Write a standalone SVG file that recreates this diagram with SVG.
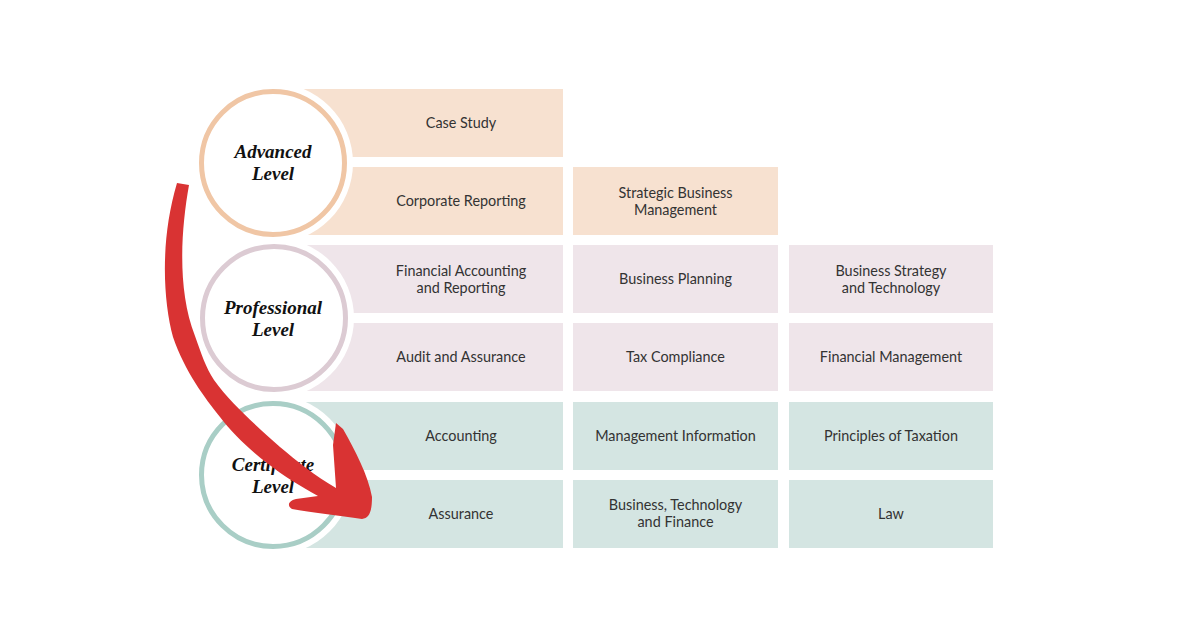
<svg xmlns="http://www.w3.org/2000/svg" width="1200" height="628" viewBox="0 0 1200 628">
<style>
.adv{fill:#f7e1d0}
.pro{fill:#efe5ea}
.cer{fill:#d4e5e2}
.t{font-family:Lato,"Noto Sans",sans-serif;font-size:14.4px;fill:#333;text-anchor:middle}
.h{font-family:"Liberation Serif",serif;font-weight:bold;font-style:italic;font-size:19px;fill:#111;text-anchor:middle}
.halo{fill:#fff}
</style>
<rect width="1200" height="628" fill="#fff"/>
<g id="row-advanced">
<g id="case-study"><rect class="adv" x="300" y="89" width="263" height="68"/><text class="t" x="461" y="128">Case Study</text></g>
<g id="corporate-reporting"><rect class="adv" x="300" y="167" width="263" height="68"/><text class="t" x="461" y="206">Corporate Reporting</text></g>
<g id="strategic-business-management"><rect class="adv" x="573" y="167" width="205" height="68"/><text class="t" x="675.5" y="198">Strategic Business</text><text class="t" x="675.5" y="215">Management</text></g>
</g>
<g id="row-professional">
<g id="financial-accounting"><rect class="pro" x="300" y="245" width="263" height="68"/><text class="t" x="461" y="276">Financial Accounting</text><text class="t" x="461" y="293">and Reporting</text></g>
<g id="business-planning"><rect class="pro" x="573" y="245" width="205" height="68"/><text class="t" x="675.5" y="284">Business Planning</text></g>
<g id="business-strategy"><rect class="pro" x="789" y="245" width="204" height="68"/><text class="t" x="891" y="276">Business Strategy</text><text class="t" x="891" y="293">and Technology</text></g>
<g id="audit-assurance"><rect class="pro" x="300" y="323" width="263" height="68"/><text class="t" x="461" y="362">Audit and Assurance</text></g>
<g id="tax-compliance"><rect class="pro" x="573" y="323" width="205" height="68"/><text class="t" x="675.5" y="362">Tax Compliance</text></g>
<g id="financial-management"><rect class="pro" x="789" y="323" width="204" height="68"/><text class="t" x="891" y="362">Financial Management</text></g>
</g>
<g id="row-certificate">
<g id="accounting"><rect class="cer" x="300" y="402" width="263" height="68"/><text class="t" x="461" y="441">Accounting</text></g>
<g id="management-information"><rect class="cer" x="573" y="402" width="205" height="68"/><text class="t" x="675.5" y="441">Management Information</text></g>
<g id="principles-taxation"><rect class="cer" x="789" y="402" width="204" height="68"/><text class="t" x="891" y="441">Principles of Taxation</text></g>
<g id="assurance"><rect class="cer" x="300" y="480" width="263" height="68"/><text class="t" x="461" y="519">Assurance</text></g>
<g id="business-technology-finance"><rect class="cer" x="573" y="480" width="205" height="68"/><text class="t" x="675.5" y="510">Business, Technology</text><text class="t" x="675.5" y="527">and Finance</text></g>
<g id="law"><rect class="cer" x="789" y="480" width="204" height="68"/><text class="t" x="891" y="519">Law</text></g>
</g>
<g id="advanced-level">
<circle class="halo" cx="273" cy="163" r="80"/>
<circle cx="273" cy="163" r="71.5" fill="#fff" stroke="#f0c6a5" stroke-width="5"/>
<text class="h" x="273" y="158">Advanced</text><text class="h" x="273" y="180">Level</text>
</g>
<g id="professional-level">
<circle class="halo" cx="274" cy="318" r="80"/>
<circle cx="274" cy="318" r="71.5" fill="#fff" stroke="#dccbd3" stroke-width="5"/>
<text class="h" x="273" y="314">Professional</text><text class="h" x="273" y="336">Level</text>
</g>
<g id="certificate-level">
<circle class="halo" cx="273" cy="475" r="80"/>
<circle cx="273" cy="475" r="71.5" fill="#fff" stroke="#a9cec6" stroke-width="5"/>
<text class="h" x="273" y="471">Certificate</text><text class="h" x="273" y="493">Level</text>
</g>
<g id="connectors">
<path d="M177,183 L189,185 C181,230 177,290 195,336 C201,353 206,368 214,380 C232,405 259,428 280,447 C297,461 315,476 336,488 L333,445 L336,423 L343,429 C355,450 368,475 372,497 C372,510 370,518 362,519 C340,516 310,512 292,509 C287,506 288,501 296,499 L318,496 C300,486 285,477 267,463 C250,450 232,433 220,417 C205,398 185,372 173,337 C163,300 160,240 177,183 Z" fill="#d93333"/>
</g>
</svg>
